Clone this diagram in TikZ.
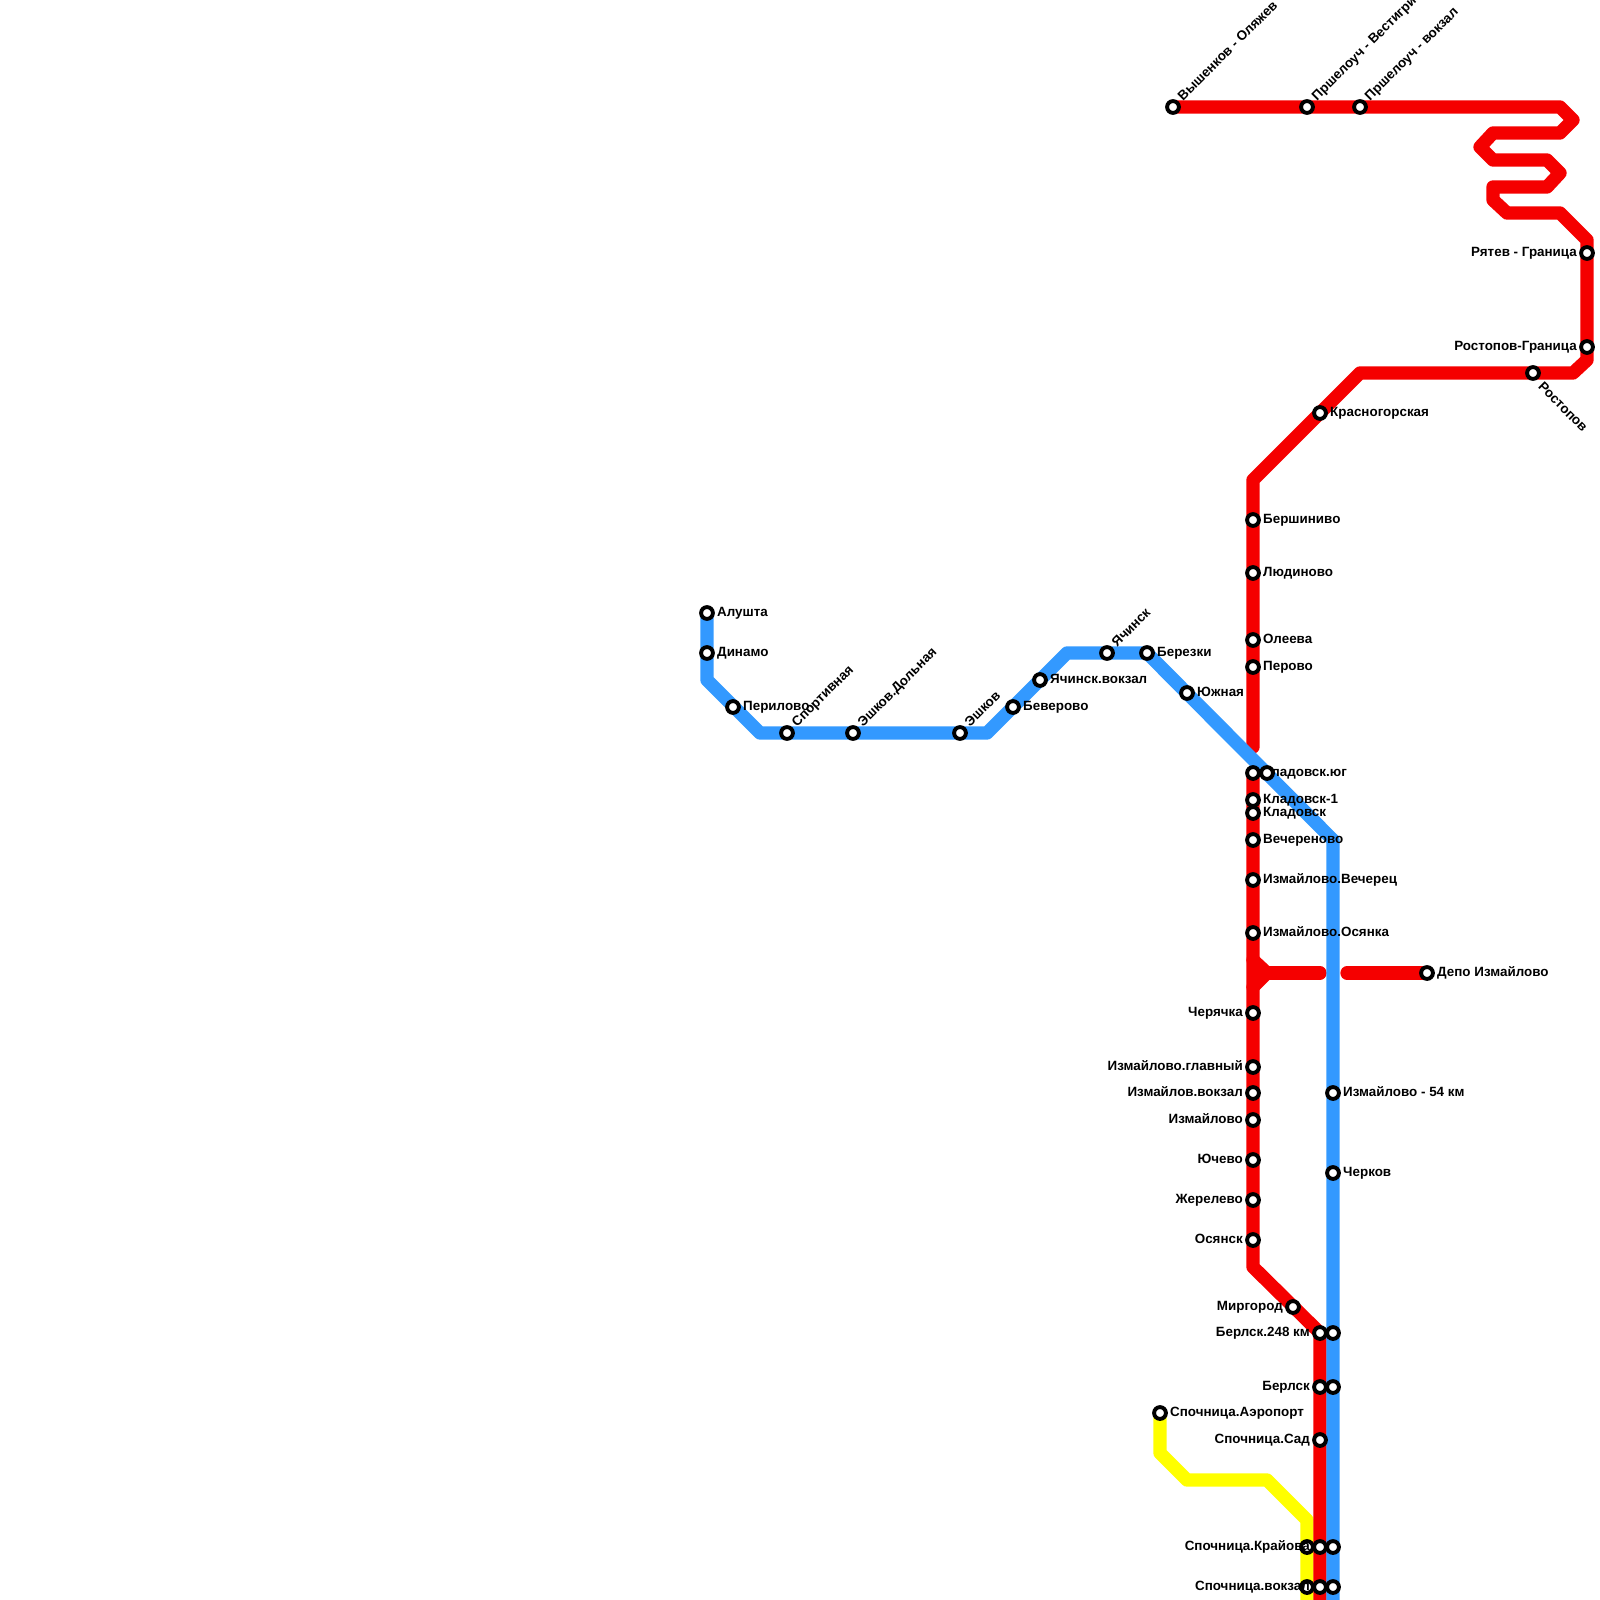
\documentclass[tikz,border=0pt]{standalone}
\usepackage{fontspec}
\setmainfont{Liberation Sans}
\usetikzlibrary{backgrounds}
\definecolor{linered}{RGB}{245,0,0}
\definecolor{lineblue}{RGB}{51,153,255}
\definecolor{lineyellow}{RGB}{255,255,0}
\begin{document}
\begin{tikzpicture}[x=1pt,y=-1pt]
\tikzset{stn/.style={draw, circle, fill=white, line width=3.9pt, inner sep=0pt, outer sep=0pt, minimum size=11.8pt},
  ligne/.style={line width=13.33pt, line cap=round, line join=round},
  nom/.style={font=\bfseries\fontsize{13.4pt}{14pt}\selectfont, inner sep=0pt, text height=9pt, text depth=2.5pt},
  nomd/.style={nom, anchor=west, xshift=10pt},
  nomg/.style={nom, anchor=east, xshift=-10pt},
  nomh/.style={nom, anchor=west, rotate=45, xshift=11pt, yshift=0pt},
  nomb/.style={nom, anchor=west, rotate=-45, xshift=13.5pt, yshift=-4pt}}
\clip (0, 0) rectangle (1600, 1600);
% ligne bleue
\node[stn] (B1) at (707, 613) {};
\node[stn] (B2) at (707, 653) {};
\node[stn] (B3) at (733, 707) {};
\node[stn] (B4) at (787, 733) {};
\node[stn] (B5) at (853, 733) {};
\node[stn] (B6) at (960, 733) {};
\node[stn] (B7) at (1013, 707) {};
\node[stn] (B8) at (1040, 680) {};
\node[stn] (B9) at (1107, 653) {};
\node[stn] (B10) at (1147, 653) {};
\node[stn] (B11) at (1187, 693) {};
\node[stn] (B12) at (1267, 773) {};
\node[stn] (B13) at (1333, 1093) {};
\node[stn] (B14) at (1333, 1173) {};
\node[stn] (B15) at (1333, 1333) {};
\node[stn] (B16) at (1333, 1387) {};
\node[stn] (B17) at (1333, 1547) {};
\node[stn] (B18) at (1333, 1587) {};
% ligne rouge
\node[stn] (R1) at (1173, 107) {};
\node[stn] (R2) at (1307, 107) {};
\node[stn] (R3) at (1360, 107) {};
\node[stn] (R4) at (1587, 253) {};
\node[stn] (R5) at (1587, 347) {};
\node[stn] (R6) at (1533, 373) {};
\node[stn] (R7) at (1320, 413) {};
\node[stn] (R8) at (1253, 520) {};
\node[stn] (R9) at (1253, 573) {};
\node[stn] (R10) at (1253, 640) {};
\node[stn] (R11) at (1253, 667) {};
\node[stn] (R12) at (1253, 773) {};
\node[stn] (R13) at (1253, 800) {};
\node[stn] (R14) at (1253, 813) {};
\node[stn] (R15) at (1253, 840) {};
\node[stn] (R16) at (1253, 880) {};
\node[stn] (R17) at (1253, 933) {};
\node[stn] (R18) at (1427, 973) {};
\node[stn] (R19) at (1253, 1013) {};
\node[stn] (R20) at (1253, 1067) {};
\node[stn] (R21) at (1253, 1093) {};
\node[stn] (R22) at (1253, 1120) {};
\node[stn] (R23) at (1253, 1160) {};
\node[stn] (R24) at (1253, 1200) {};
\node[stn] (R25) at (1253, 1240) {};
\node[stn] (R26) at (1293, 1307) {};
\node[stn] (R27) at (1320, 1333) {};
\node[stn] (R28) at (1320, 1387) {};
\node[stn] (R29) at (1320, 1440) {};
\node[stn] (R30) at (1320, 1547) {};
\node[stn] (R31) at (1320, 1587) {};
% ligne jaune
\node[stn] (J1) at (1160, 1413) {};
\begin{pgfonlayer}{background}
% trace jaune
\coordinate (Ja) at (1160, 1453);
\coordinate (Jb) at (1187, 1480);
\coordinate (Jc) at (1267, 1480);
\coordinate (Jd) at (1307, 1520);
\coordinate (Je) at (1307, 1610);
\draw[ligne, lineyellow] (J1.center) -- (Ja) -- (Jb) -- (Jc) -- (Jd) -- (Je);
\node[stn] (J2) at (1307, 1547) {};
\node[stn] (J3) at (1307, 1587) {};
% trace rouge
\coordinate (Ra) at (1560, 107);
\coordinate (Rb) at (1573, 120);
\coordinate (Rc) at (1560, 133);
\coordinate (Rd) at (1493, 133);
\coordinate (Re) at (1480, 147);
\coordinate (Rf) at (1493, 160);
\coordinate (Rg) at (1547, 160);
\coordinate (Rh) at (1560, 173);
\coordinate (Ri) at (1547, 187);
\coordinate (Rj) at (1493, 187);
\coordinate (Rk) at (1493, 200);
\coordinate (Rl) at (1507, 213);
\coordinate (Rm) at (1560, 213);
\coordinate (Rn) at (1587, 240);
\coordinate (Ro) at (1587, 360);
\coordinate (Rp) at (1573, 373);
\coordinate (Rq) at (1360, 373);
\coordinate (Rr) at (1253, 480);
\coordinate (Rs) at (1253, 747);
\draw[ligne, linered] (R1.center) -- (Ra) -- (Rb) -- (Rc) -- (Rd) -- (Re) -- (Rf) -- (Rg) -- (Rh) -- (Ri) -- (Rj) -- (Rk) -- (Rl) -- (Rm) -- (Rn) -- (Ro) -- (Rp) -- (Rq) -- (Rr) -- (Rs);
\coordinate (Rt) at (1253, 1267);
\coordinate (Ru) at (1320, 1333);
\coordinate (Rv) at (1320, 1610);
\draw[ligne, linered] (R12.center) -- (Rt) -- (Ru) -- (Rv);
\coordinate (Rw) at (1253, 960);
\coordinate (Rx) at (1267, 973);
\coordinate (Ry) at (1253, 987);
\coordinate (Rz) at (1320, 973);
\coordinate (Raa) at (1347, 973);
\draw[ligne, linered] (Rw) -- (Rx) -- (Ry);
\draw[ligne, linered] (Rx) -- (Rz);
\draw[ligne, linered] (Raa) -- (R18.center);
% trace bleu
\coordinate (Ba) at (707, 680);
\coordinate (Bb) at (760, 733);
\coordinate (Bc) at (987, 733);
\coordinate (Bd) at (1067, 653);
\coordinate (Be) at (1147, 653);
\coordinate (Bf) at (1333, 840);
\coordinate (Bg) at (1333, 1610);
\draw[ligne, lineblue] (B1.center) -- (Ba) -- (Bb) -- (Bc) -- (Bd) -- (Be) -- (Bf) -- (Bg);
% noms
\node[nomd] (TB1) at (B1) {Алушта};
\node[nomd] (TB2) at (B2) {Динамо};
\node[nomd] (TB3) at (B3) {Перилово};
\node[nomh] (TB4) at (B4) {Спортивная};
\node[nomh] (TB5) at (B5) {Эшков.Дольная};
\node[nomh] (TB6) at (B6) {Эшков};
\node[nomd] (TB7) at (B7) {Беверово};
\node[nomd] (TB8) at (B8) {Ячинск.вокзал};
\node[nomh] (TB9) at (B9) {Ячинск};
\node[nomd] (TB10) at (B10) {Березки};
\node[nomd] (TB11) at (B11) {Южная};
\node[nomd] (TB13) at (B13) {Измайлово - 54 км};
\node[nomd] (TB14) at (B14) {Черков};
\node[nomh] (TR1) at (R1) {Вышенков - Оляжев};
\node[nomh] (TR2) at (R2) {Пршелоуч - Вестигрич};
\node[nomh] (TR3) at (R3) {Пршелоуч - вокзал};
\node[nomg] (TR4) at (R4) {Рятев - Граница};
\node[nomg] (TR5) at (R5) {Ростопов-Граница};
\node[nomb] (TR6) at (R6) {Ростопов};
\node[nomd] (TR7) at (R7) {Красногорская};
\node[nomd] (TR8) at (R8) {Бершиниво};
\node[nomd] (TR9) at (R9) {Людиново};
\node[nomd] (TR10) at (R10) {Олеева};
\node[nomd] (TR11) at (R11) {Перово};
\node[nomd] (TR12) at (R12) {Кладовск.юг};
\node[nomd] (TR13) at (R13) {Кладовск-1};
\node[nomd] (TR14) at (R14) {Кладовск};
\node[nomd] (TR15) at (R15) {Вечереново};
\node[nomd] (TR16) at (R16) {Измайлово.Вечерец};
\node[nomd] (TR17) at (R17) {Измайлово.Осянка};
\node[nomd] (TR18) at (R18) {Депо Измайлово};
\node[nomg] (TR19) at (R19) {Черячка};
\node[nomg] (TR20) at (R20) {Измайлово.главный};
\node[nomg] (TR21) at (R21) {Измайлов.вокзал};
\node[nomg] (TR22) at (R22) {Измайлово};
\node[nomg] (TR23) at (R23) {Ючево};
\node[nomg] (TR24) at (R24) {Жерелево};
\node[nomg] (TR25) at (R25) {Осянск};
\node[nomg] (TR26) at (R26) {Миргород};
\node[nomg] (TR27) at (R27) {Берлск.248 км};
\node[nomg] (TR28) at (R28) {Берлск};
\node[nomg] (TR29) at (R29) {Спочница.Сад};
\node[nomg] (TR30) at (R30) {Спочница.Крайова};
\node[nomg] (TR31) at (R31) {Спочница.вокзал};
\node[nomd] (TJ1) at (J1) {Спочница.Аэропорт};
\end{pgfonlayer}
\end{tikzpicture}
\end{document}
